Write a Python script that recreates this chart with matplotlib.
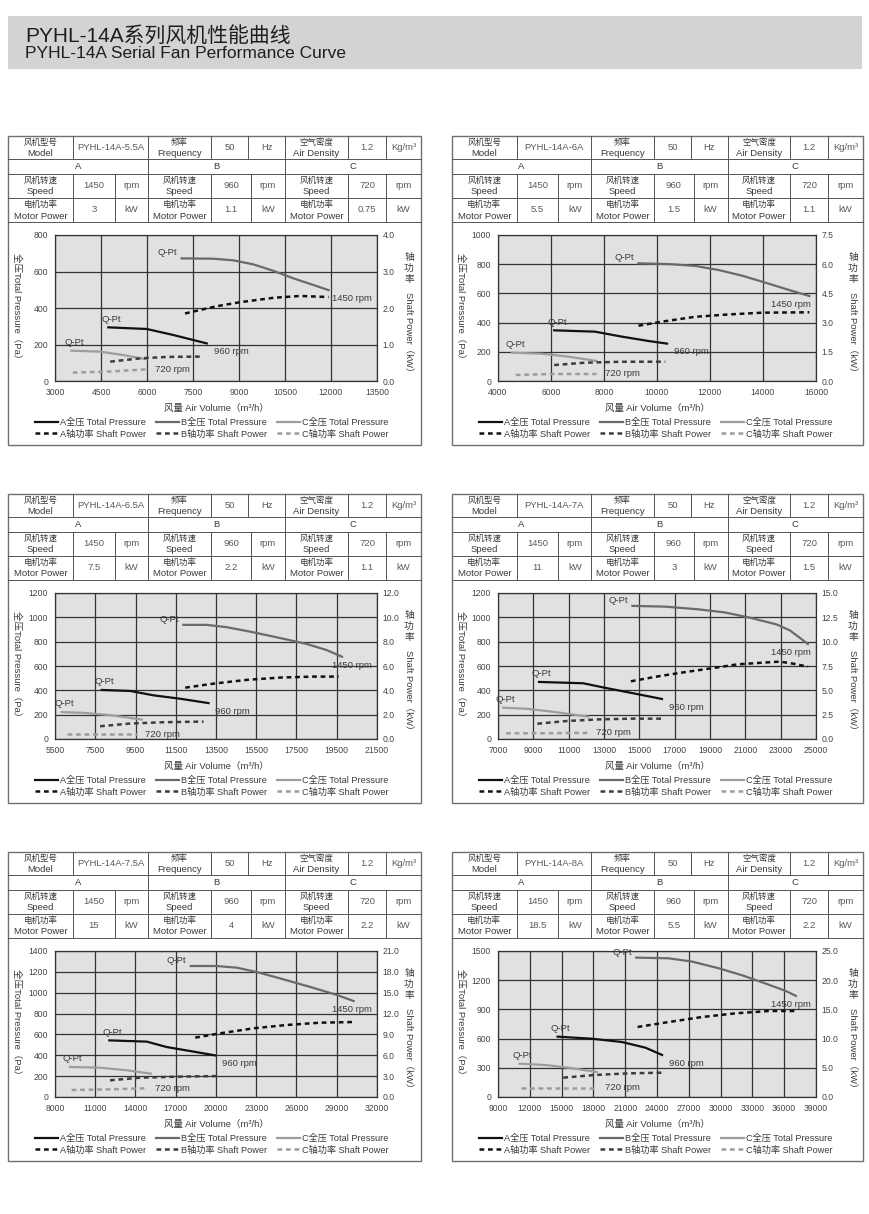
import numpy as np
import matplotlib.pyplot as plt
from matplotlib.patches import Rectangle
from matplotlib.lines import Line2D

# ---- datos de la tabla ----
models = ["PYHL-14A-5.5A", "PYHL-14A-6A", "PYHL-14A-6.5A",
          "PYHL-14A-7A", "PYHL-14A-7.5A", "PYHL-14A-8A"]
speeds = ["1450", "960", "720"]
motor_kw = [["3", "1.1", "0.75"], ["5.5", "1.5", "1.1"], ["7.5", "2.2", "1.1"],
            ["11", "3", "1.5"], ["15", "4", "2.2"], ["18.5", "5.5", "2.2"]]

# rangos de ejes: (min, max, paso) de caudal, (max, paso) de presion y potencia
q_ranges = [(3000, 13500, 1500), (4000, 16000, 2000), (5500, 21500, 2000),
            (7000, 25000, 2000), (8000, 32000, 3000), (9000, 39000, 3000)]
p_ranges = [(800, 200), (1000, 200), (1200, 200), (1200, 200), (1400, 200), (1500, 300)]
n_ranges = [(4.0, 1.0), (7.5, 1.5), (12.0, 2.0), (15.0, 2.5), (21.0, 3.0), (25.0, 5.0)]

# ---- PYHL-14A-5.5A ----
m55_pa_q = [4740, 5990, 6860, 7950]
m55_pa = [294, 285, 252, 206]
m55_pb_q = [7130, 8170, 8820, 9470, 10130, 10780, 11430, 11920]
m55_pb = [672, 670, 661, 639, 603, 562, 526, 498]
m55_pc_q = [3540, 4470, 5230, 5990]
m55_pc = [166, 161, 142, 119]
m55_na_q = [7240, 8280, 9040, 10130, 11000, 11920]
m55_na = [1.85, 2.05, 2.16, 2.28, 2.33, 2.30]
m55_nb_q = [4800, 5780, 6650, 7840]
m55_nb = [0.53, 0.62, 0.66, 0.67]
m55_nc_q = [3580, 4800, 5990]
m55_nc = [0.23, 0.26, 0.32]

# ---- PYHL-14A-6A ----
m60_pa_q = [6120, 7660, 8670, 9680, 10380]
m60_pa = [347, 338, 304, 274, 256]
m60_pb_q = [9300, 10440, 11450, 12330, 13220, 14100, 14990, 15750]
m60_pb = [806, 801, 788, 760, 721, 673, 623, 582]
m60_pc_q = [4530, 5640, 6650, 7720]
m60_pc = [194, 187, 167, 137]
m60_na_q = [9300, 10190, 11450, 12710, 13980, 15750]
m60_na = [2.84, 3.05, 3.30, 3.42, 3.51, 3.53]
m60_nb_q = [6120, 7280, 8670, 10310]
m60_nb = [0.82, 0.94, 0.99, 0.99]
m60_nc_q = [4670, 6000, 7720]
m60_nc = [0.31, 0.36, 0.36]

# ---- PYHL-14A-6.5A ----
m65_pa_q = [7820, 9230, 10390, 11720, 13130]
m65_pa = [403, 395, 359, 331, 295]
m65_pb_q = [11880, 13040, 14030, 15360, 16680, 18010, 19000, 19760]
m65_pb = [938, 938, 919, 877, 830, 781, 731, 676]
m65_pc_q = [5830, 6910, 8240, 9810]
m65_pc = [221, 215, 196, 160]
m65_na_q = [11970, 13380, 15030, 16690, 18350, 19590]
m65_na = [4.22, 4.55, 4.86, 5.05, 5.13, 5.13]
m65_nb_q = [7740, 9230, 10890, 12880]
m65_nb = [1.05, 1.27, 1.38, 1.43]
m65_nc_q = [6080, 7740, 9560]
m65_nc = [0.41, 0.41, 0.41]

# ---- PYHL-14A-7A ----
m70_pa_q = [9320, 11830, 13120, 14610, 16280]
m70_pa = [469, 458, 419, 377, 329]
m70_pb_q = [14610, 16470, 18330, 19810, 21300, 22780, 23520, 24080, 24540]
m70_pb = [1094, 1088, 1066, 1041, 996, 941, 893, 832, 781]
m70_pc_q = [7280, 8670, 10160, 12100]
m70_pc = [257, 248, 223, 184]
m70_na_q = [14520, 16100, 17580, 19070, 20550, 22040, 22960, 23710, 24540]
m70_na = [5.93, 6.45, 6.87, 7.26, 7.67, 7.85, 7.95, 7.74, 7.43]
m70_nb_q = [9230, 10900, 12750, 14610, 16280]
m70_nb = [1.57, 1.85, 2.02, 2.09, 2.09]
m70_nc_q = [7460, 9600, 12100]
m70_nc = [0.59, 0.59, 0.63]

# ---- PYHL-14A-7.5A ----
m75_pa_q = [12050, 14840, 16330, 18070, 19940]
m75_pa = [543, 531, 479, 441, 399]
m75_pb_q = [18120, 20060, 21550, 23050, 25040, 27030, 29020, 30260]
m75_pb = [1256, 1256, 1240, 1198, 1128, 1055, 978, 920]
m75_pc_q = [9120, 11360, 13350, 15140]
m75_pc = [288, 281, 256, 224]
m75_na_q = [18450, 20310, 22800, 25280, 27770, 30380]
m75_na = [8.54, 9.16, 9.88, 10.36, 10.69, 10.79]
m75_nb_q = [12100, 14340, 17330, 20190]
m75_nb = [2.40, 2.78, 2.93, 3.02]
m75_nc_q = [9240, 12100, 14840]
m75_nc = [1.01, 1.10, 1.25]

# ---- PYHL-14A-8A ----
m80_pa_q = [14620, 17840, 20680, 22900, 24480]
m80_pa = [620, 599, 565, 507, 432]
m80_pb_q = [22040, 25100, 27320, 29840, 32050, 34260, 36160, 37110]
m80_pb = [1432, 1425, 1391, 1322, 1250, 1165, 1089, 1038]
m80_pc_q = [11050, 13420, 15630, 18320]
m80_pc = [342, 329, 301, 257]
m80_na_q = [22170, 25100, 28260, 31420, 34580, 37260]
m80_na = [11.99, 12.84, 13.70, 14.33, 14.73, 14.73]
m80_nb_q = [15160, 18160, 21320, 24570]
m80_nb = [3.31, 3.77, 4.05, 4.17]
m80_nc_q = [11210, 14990, 18320]
m80_nc = [1.60, 1.60, 1.60]

curves = [
    (m55_pa_q, m55_pa, m55_pb_q, m55_pb, m55_pc_q, m55_pc, m55_na_q, m55_na, m55_nb_q, m55_nb, m55_nc_q, m55_nc),
    (m60_pa_q, m60_pa, m60_pb_q, m60_pb, m60_pc_q, m60_pc, m60_na_q, m60_na, m60_nb_q, m60_nb, m60_nc_q, m60_nc),
    (m65_pa_q, m65_pa, m65_pb_q, m65_pb, m65_pc_q, m65_pc, m65_na_q, m65_na, m65_nb_q, m65_nb, m65_nc_q, m65_nc),
    (m70_pa_q, m70_pa, m70_pb_q, m70_pb, m70_pc_q, m70_pc, m70_na_q, m70_na, m70_nb_q, m70_nb, m70_nc_q, m70_nc),
    (m75_pa_q, m75_pa, m75_pb_q, m75_pb, m75_pc_q, m75_pc, m75_na_q, m75_na, m75_nb_q, m75_nb, m75_nc_q, m75_nc),
    (m80_pa_q, m80_pa, m80_pb_q, m80_pb, m80_pc_q, m80_pc, m80_na_q, m80_na, m80_nb_q, m80_nb, m80_nc_q, m80_nc),
]

plt.rcParams['font.family'] = ['Liberation Sans', 'Noto Sans CJK SC']

W, H = 870, 1214
fig = plt.figure(figsize=(W / 100, H / 100), dpi=100)


# coordenadas en pixeles (origen arriba a la izquierda)
def fx(x):
    return x / W


def fy(y):
    return 1 - y / H


def fline(x0, y0, x1, y1, color='#555555', lw=0.7):
    fig.add_artist(Line2D([fx(x0), fx(x1)], [fy(y0), fy(y1)], transform=fig.transFigure,
                          color=color, lw=lw))


# cabecera
fig.add_artist(Rectangle((fx(8), fy(69)), fx(862) - fx(8), fy(16) - fy(69),
                         transform=fig.transFigure, facecolor='#d3d3d3', edgecolor='none'))
fig.text(fx(25), fy(37), "PYHL-14A系列风机性能曲线", fontsize=15, va='center', color='#1e1e1e')
fig.text(fx(25), fy(54), "PYHL-14A Serial Fan Performance Curve", fontsize=12.5, va='center', color='#1e1e1e')

c_a, c_b, c_c = '#111111', '#6a6a6a', '#9d9d9d'
c_nb = '#3c3c3c'
dash = (0, (1.9, 1.5))
txt = '#3a3a3a'
val = '#5a5a5a'
fs_txt = 6.8

col_left = [8, 452]
col_width = [413, 411]
row_top = [136, 494, 852]
ax_x = [(55, 377), (498, 816)]

for i in range(6):
    r, c = divmod(i, 2)
    L, T, Wp = col_left[c], row_top[r], col_width[c]
    s = Wp / 413
    B = T + 309

    # marco del panel
    fig.add_artist(Rectangle((fx(L), fy(B)), fx(L + Wp) - fx(L), fy(T) - fy(B),
                             transform=fig.transFigure, facecolor='none', edgecolor='#707070', lw=1.0))
    # tabla
    ys = [T, T + 23, T + 38, T + 62, T + 86]
    for y in ys[1:]:
        fline(L, y, L + Wp, y)
    r1 = [65, 140, 203, 240, 277, 340, 378]
    r2 = [140, 277]
    r3 = [65, 107, 140, 203, 243, 277, 340, 378]
    for x in r1:
        fline(L + x * s, ys[0], L + x * s, ys[1])
    for x in r2:
        fline(L + x * s, ys[1], L + x * s, ys[2])
    for x in r3:
        fline(L + x * s, ys[2], L + x * s, ys[4])

    def cell(x0, x1, y0, y1, t):
        xc = fx(L + (x0 + x1) / 2 * s)
        if '\n' in t:
            cn, en = t.split('\n')
            fig.text(xc, fy(y0 + 7), cn, ha='center', va='center', fontsize=6.1, color=txt)
            fig.text(xc, fy(y1 - 6), en, ha='center', va='center', fontsize=fs_txt, color=txt)
        else:
            fig.text(xc, fy((y0 + y1) / 2), t, ha='center', va='center', fontsize=fs_txt,
                     color=txt if t in "ABC" else val)

    b1 = [0] + r1 + [413]
    row1 = ["风机型号\nModel", models[i], "频率\nFrequency", "50", "Hz",
            "空气密度\nAir Density", "1.2", "Kg/m³"]
    for k, t in enumerate(row1):
        cell(b1[k], b1[k + 1], ys[0], ys[1], t)
    b2 = [0] + r2 + [413]
    for k, t in enumerate(["A", "B", "C"]):
        cell(b2[k], b2[k + 1], ys[1], ys[2], t)
    b3 = [0] + r3 + [413]
    row3 = []
    row4 = []
    for k in range(3):
        row3 += ["风机转速\nSpeed", speeds[k], "rpm"]
        row4 += ["电机功率\nMotor Power", motor_kw[i][k], "kW"]
    for k in range(9):
        cell(b3[k], b3[k + 1], ys[2], ys[3], row3[k])
        cell(b3[k], b3[k + 1], ys[3], ys[4], row4[k])

    # grafico
    x0, x1 = ax_x[c]
    at, ab = T + 99, T + 245
    ax = fig.add_axes([fx(x0), fy(ab), fx(x1) - fx(x0), fy(at) - fy(ab)])
    ax.set_facecolor('#e1e1e1')
    qmin, qmax, qstep = q_ranges[i]
    pmax, pstep = p_ranges[i]
    nmax, nstep = n_ranges[i]
    ax.set_xlim(qmin, qmax)
    ax.set_ylim(0, pmax)
    ax.set_xticks(np.arange(qmin, qmax + 1, qstep))
    ax.set_yticks(np.arange(0, pmax + 1, pstep))
    ax.grid(True, color='#333333', lw=0.9)
    for sp in ax.spines.values():
        sp.set_color('#333333')
        sp.set_linewidth(0.9)
    ax.tick_params(length=0, labelsize=6.2, colors='#444444', pad=5)

    (qa, pa, qb, pb, qc, pc, qna, na, qnb, nb, qnc, nc) = curves[i]
    la, = ax.plot(qa, pa, color=c_a, lw=1.6)
    lb, = ax.plot(qb, pb, color=c_b, lw=1.6)
    lc, = ax.plot(qc, pc, color=c_c, lw=1.6)

    ax2 = ax.twinx()
    ax2.set_ylim(0, nmax)
    ax2.set_yticks(np.arange(0, nmax + 0.01, nstep))
    ax2.set_yticklabels([f"{v:.1f}" for v in np.arange(0, nmax + 0.01, nstep)])
    ax2.tick_params(length=0, labelsize=6.2, colors='#444444', pad=4)
    for sp in ax2.spines.values():
        sp.set_visible(False)
    da, = ax2.plot(qna, na, color=c_a, lw=1.8, ls=dash)
    db, = ax2.plot(qnb, nb, color=c_nb, lw=1.8, ls=dash)
    dc, = ax2.plot(qnc, nc, color=c_c, lw=1.8, ls=dash)

    # etiquetas de las curvas
    ax.annotate("Q-Pt", (qb[0], pb[0]), xytext=(-3, 4), textcoords='offset points',
                ha='right', va='center', fontsize=fs_txt, color=txt)
    for q, p in ((qa, pa), (qc, pc)):
        ax.annotate("Q-Pt", (q[0], p[0]), xytext=(2, 6), textcoords='offset points',
                    ha='center', va='center', fontsize=fs_txt, color=txt)
    ax.annotate("1450 rpm", (0.985, pb[-1]), xycoords=('axes fraction', 'data'),
                xytext=(0, -6), textcoords='offset points', ha='right', va='center',
                fontsize=fs_txt, color=txt)
    ax.annotate("960 rpm", (qa[-1], pa[-1]), xytext=(5, -6), textcoords='offset points',
                ha='left', va='center', fontsize=fs_txt, color=txt)
    ax2.annotate("720 rpm", (qnc[-1], nc[-1]), xytext=(6, 0), textcoords='offset points',
                 ha='left', va='center', fontsize=fs_txt, color=txt)

    # titulos de ejes
    mid = (at + ab) / 2
    fig.text(fx(L + 9), fy(mid), "全压Total Pressure（Pa）", rotation=270, ha='center',
             va='center', fontsize=fs_txt, color=txt)
    fig.text(fx(L + 401), fy(mid - 56), "轴\n功\n率", ha='center', va='top',
             fontsize=7, color=txt, linespacing=1.1)
    fig.text(fx(L + 401), fy(mid - 16), "Shaft Power（kW）", rotation=270, ha='center',
             va='top', fontsize=fs_txt, color=txt)
    fig.text(fx((x0 + x1) / 2), fy(T + 272), "风量 Air Volume（m³/h）", ha='center',
             va='center', fontsize=fs_txt, color=txt)

    # leyenda
    fig.legend([la, da, lb, db, lc, dc],
               ["A全压 Total Pressure", "A轴功率 Shaft Power",
                "B全压 Total Pressure", "B轴功率 Shaft Power",
                "C全压 Total Pressure", "C轴功率 Shaft Power"],
               loc='center left', bbox_to_anchor=(fx(L + 27), fy(T + 292)),
               ncol=3, frameon=False, fontsize=6.6, handlelength=2.5, handletextpad=0.2,
               columnspacing=1.1, labelspacing=0.3, borderpad=0, borderaxespad=0,
               labelcolor=txt)

fig.savefig("out.png", dpi=100)
